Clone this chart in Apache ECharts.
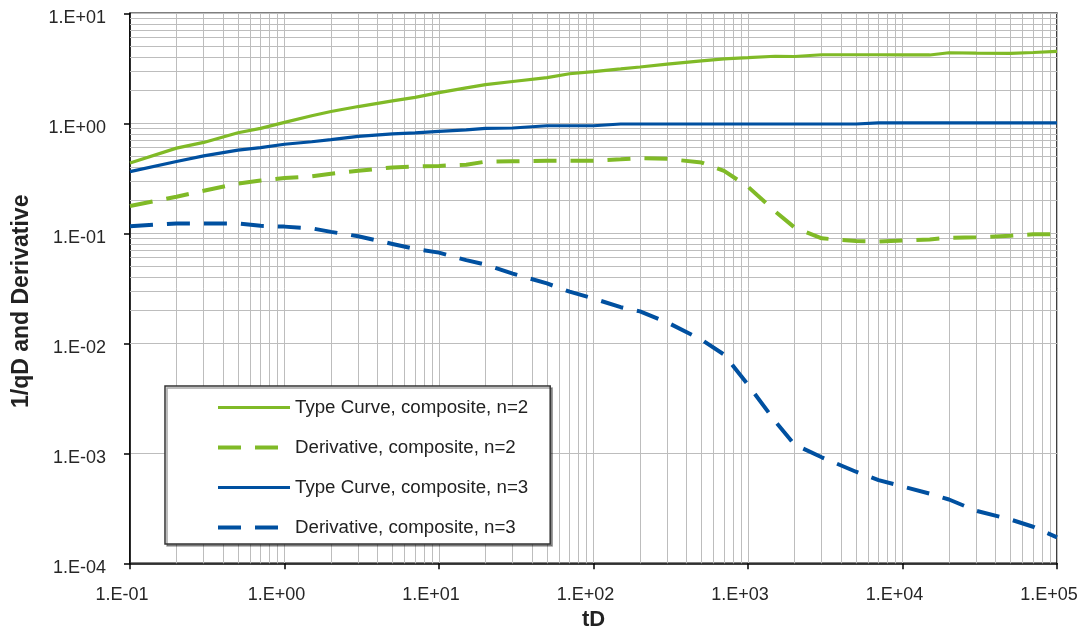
<!DOCTYPE html>
<html>
<head>
<meta charset="utf-8">
<script src="https://cdn.jsdelivr.net/npm/echarts/dist/echarts.min.js"></script>
<style>
  html, body { margin: 0; padding: 0; background: #ffffff; }
  #chart { width: 1082px; height: 633px; }
</style>
</head>
<body>
<div id="chart"></div>
<script>
// Dimensionless time
const tD = [0.1, 0.2, 0.3, 0.5, 0.7, 1, 1.5, 2, 3, 5, 7, 10, 15, 20, 30, 50, 70, 100, 150, 200,
            300, 500, 700, 1000, 1500, 2000, 3000, 5000, 7000, 1e4, 1.5e4, 2e4, 3e4, 5e4, 7e4, 1e5];

// 1/qD type curve and its derivative, composite model n=2
const typeCurveN2 = [0.435, 0.595, 0.67, 0.82, 0.9, 1.02, 1.17, 1.28, 1.42, 1.6, 1.72, 1.9, 2.1, 2.25, 2.4, 2.6, 2.82, 2.95, 3.12, 3.25,
                     3.45, 3.7, 3.85, 3.95, 4.07, 4.05, 4.2, 4.2, 4.2, 4.18, 4.18, 4.38, 4.35, 4.32, 4.4, 4.5];
const derivativeN2 = [0.177, 0.215, 0.244, 0.283, 0.302, 0.318, 0.33, 0.348, 0.37, 0.397, 0.405, 0.41, 0.42, 0.448, 0.452, 0.457, 0.457, 0.457, 0.47, 0.481,
                      0.475, 0.44, 0.37, 0.265, 0.158, 0.113, 0.09, 0.085, 0.084, 0.086, 0.088, 0.091, 0.092, 0.095, 0.098, 0.098];

// 1/qD type curve and its derivative, composite model n=3
const typeCurveN3 = [0.364, 0.449, 0.506, 0.57, 0.6, 0.645, 0.68, 0.71, 0.76, 0.8, 0.82, 0.843, 0.87, 0.9, 0.906, 0.95, 0.95, 0.95, 0.985, 0.985,
                     0.985, 0.985, 0.985, 0.985, 0.985, 0.985, 0.985, 0.985, 1.01, 1.01, 1.01, 1.01, 1.01, 1.01, 1.01, 1.01];
const derivativeN3 = [0.116, 0.123, 0.123, 0.123, 0.117, 0.115, 0.111, 0.103, 0.094, 0.08, 0.072, 0.0667, 0.057, 0.052, 0.043, 0.035, 0.0295, 0.0255, 0.0213, 0.0195,
                      0.0155, 0.0108, 0.0079, 0.0042, 0.00195, 0.0012, 0.00092, 0.00068, 0.00057, 0.0005, 0.00043, 0.00038, 0.0003, 0.00025, 0.000215, 0.000172];

const seriesNames = ['Type Curve, composite, n=2', 'Derivative, composite, n=2',
                     'Type Curve, composite, n=3', 'Derivative, composite, n=3'];

// Decade tick labels, indexed from the lowest decade of each axis
const xTickLabels = ['1.E-01', '1.E+00', '1.E+01', '1.E+02', '1.E+03', '1.E+04', '1.E+05'];
const yTickLabels = ['1.E-04', '1.E-03', '1.E-02', '1.E-01', '1.E+00', '1.E+01'];

const GREEN = '#80ba27';
const BLUE = '#0050a0';
const GRID_GRAY = '#bdbdbd';
const FONT = '"Liberation Sans", Arial, sans-serif';
const SOLID_WIDTH = 3.2;
const DASH_WIDTH = 4;

// Intermediate log gridlines (2..9 within each decade)
function minorValues(lowExp, highExp) {
  const out = [];
  for (let e = lowExp; e < highExp; e++) {
    for (let m = 2; m <= 9; m++) out.push(m * Math.pow(10, e));
  }
  return out;
}
const minorX = minorValues(-1, 5);
const minorY = minorValues(-4, 1);

const pairs = (ys) => tD.map((t, i) => [t, ys[i]]);
const expOf = (v) => Math.round(Math.log10(v));

function curve(name, values, color, dashed) {
  return {
    name: name,
    type: 'line',
    data: pairs(values),
    showSymbol: false,
    symbol: 'none',
    smooth: false,
    z: 3,
    color: color,
    lineStyle: dashed
      ? { color: color, width: DASH_WIDTH, type: [23, 14], cap: 'butt' }
      : { color: color, width: SOLID_WIDTH, type: 'solid' },
    emphasis: { disabled: true },
    animation: false
  };
}

const chart = echarts.init(document.getElementById('chart'), null, { renderer: 'canvas' });

chart.setOption({
  backgroundColor: '#ffffff',
  animation: false,
  textStyle: { fontFamily: FONT },
  grid: {
    left: 130, right: 25, top: 13.3, bottom: 69.7,
    show: true, borderColor: '#000', borderWidth: 1.5,
    containLabel: false, outerBoundsMode: 'none'
  },
  legend: {
    orient: 'vertical',
    z: 10,
    left: 165, top: 386,
    itemWidth: 72, itemHeight: 14, itemGap: 21,
    padding: [12, 22, 7, 51],
    backgroundColor: '#ffffff',
    borderColor: '#333', borderWidth: 1.5,
    shadowColor: 'rgba(0,0,0,0.35)', shadowOffsetX: 2, shadowOffsetY: 2, shadowBlur: 0,
    selectedMode: false,
    itemStyle: { color: 'rgba(0,0,0,0)', borderWidth: 0, opacity: 0 },
    textStyle: { fontFamily: FONT, fontSize: 18.7, lineHeight: 18, color: '#222' },
    data: [
      { name: seriesNames[0], lineStyle: { width: SOLID_WIDTH } },
      { name: seriesNames[1], lineStyle: { width: DASH_WIDTH } },
      { name: seriesNames[2], lineStyle: { width: SOLID_WIDTH } },
      { name: seriesNames[3], lineStyle: { width: DASH_WIDTH } }
    ]
  },
  xAxis: {
    type: 'log', logBase: 10, min: 0.1, max: 1e5, splitNumber: 6,
    name: 'tD', nameLocation: 'middle', nameGap: 44,
    nameTextStyle: { fontFamily: FONT, fontSize: 22, fontWeight: 'bold', color: '#222' },
    axisLine: { show: true, onZero: false, lineStyle: { color: '#000', width: 1.5 } },
    axisTick: { show: true, inside: false, length: 6, lineStyle: { color: '#000', width: 1.5 } },
    axisLabel: {
      fontFamily: FONT, fontSize: 18, color: '#262626', margin: 23, padding: [0, 16, 0, 0],
      showMinLabel: true, showMaxLabel: true,
      formatter: (v) => xTickLabels[expOf(v) + 1]
    },
    splitLine: { show: true, lineStyle: { color: GRID_GRAY, width: 1 } },
    minorTick: { show: false }, minorSplitLine: { show: false }
  },
  yAxis: {
    type: 'log', logBase: 10, min: 1e-4, max: 10, splitNumber: 5,
    name: '1/qD and Derivative', nameLocation: 'middle', nameRotate: 90, nameGap: 97,
    nameTextStyle: { fontFamily: FONT, fontSize: 23, fontWeight: 'bold', color: '#222', padding: [0, 26, 0, 0] },
    axisLine: { show: true, onZero: false, lineStyle: { color: '#000', width: 1.5 } },
    axisTick: { show: true, inside: false, length: 6, lineStyle: { color: '#000', width: 1.5 } },
    axisLabel: {
      fontFamily: FONT, fontSize: 18, color: '#262626', margin: 24,
      verticalAlign: 'top', lineHeight: 9,
      showMinLabel: true, showMaxLabel: true,
      formatter: (v) => yTickLabels[expOf(v) + 4]
    },
    splitLine: { show: true, lineStyle: { color: GRID_GRAY, width: 1 } },
    minorTick: { show: false }, minorSplitLine: { show: false }
  },
  series: [
    {
      name: 'minor-grid',
      type: 'line',
      data: [],
      z: 1,
      silent: true,
      animation: false,
      markLine: {
        z: 1,
        silent: true,
        animation: false,
        symbol: ['none', 'none'],
        label: { show: false },
        emphasis: { disabled: true },
        lineStyle: { color: GRID_GRAY, width: 1, type: 'solid' },
        data: minorX.map((v) => ({ xAxis: v })).concat(minorY.map((v) => ({ yAxis: v })))
      }
    },
    curve(seriesNames[0], typeCurveN2, GREEN, false),
    curve(seriesNames[1], derivativeN2, GREEN, true),
    curve(seriesNames[2], typeCurveN3, BLUE, false),
    curve(seriesNames[3], derivativeN3, BLUE, true)
  ]
});
</script>
</body>
</html>
